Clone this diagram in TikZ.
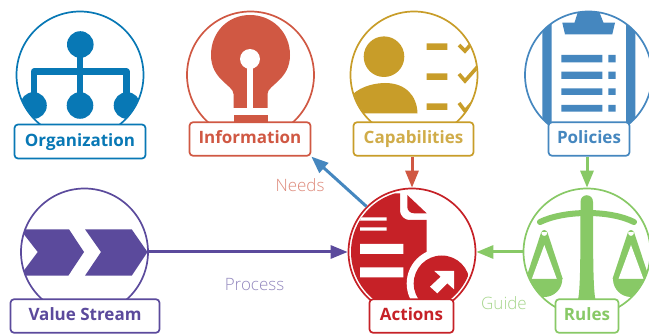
\documentclass[tikz,border=0pt]{standalone}
\usepackage{fontspec}
\setmainfont{Open Sans}
\newfontfamily\lightf{Open Sans Light}
\usetikzlibrary{arrows.meta}
\definecolor{cblue}{HTML}{0878B5}
\definecolor{cred}{HTML}{D05843}
\definecolor{cgold}{HTML}{C89D29}
\definecolor{csteel}{HTML}{4587BF}
\definecolor{cpurple}{HTML}{5B4A9C}
\definecolor{ccrim}{HTML}{C62127}
\definecolor{cgreen}{HTML}{88C966}
\tikzset{
  x=1pt,y=-1pt,
  ring/.style={circle,draw=#1,line width=1.7pt,minimum size=127pt,inner sep=0pt},
  tag/.style={draw=#1,text=#1,fill=white,line width=1.7pt,rounded corners=3.5pt,inner sep=0pt,
    font=\bfseries\fontsize{17}{17}\selectfont,text height=13pt,text depth=3pt},
  link/.style={draw=#1,line width=3pt,-{Triangle[length=17pt,width=13pt]},shorten >=0pt},
  word/.style={text=#1,font=\lightf\fontsize{17}{17}\selectfont,inner sep=0pt},
}
\begin{document}
\begin{tikzpicture}
\clip (0,0) rectangle (649,334);
\fill[white] (0,0) rectangle (649,334);
% rings
\node[ring=cblue] (orgc) at (80,75) {};
\node[ring=cred] (infc) at (250.5,75) {};
\node[ring=cgold] (capc) at (414,75) {};
\node[ring=csteel] (polc) at (588.5,75) {};
\node[ring=cpurple] (valc) at (84.5,252) {};
\node[ring=ccrim] (actc) at (412,252) {};
\node[ring=cgreen] (rulc) at (587,252) {};
% organization icon
\begin{scope}
\clip (orgc.center) circle (63pt);
\fill[cblue] (80.3,44.5) circle (13.3pt) (80,105.5) circle (13.3pt) (33.5,105.5) circle (13.3pt) (127,105.5) circle (13.3pt);
\draw[cblue,line width=6.3pt,line join=round] (80.3,50) -- (80.3,105);
\draw[cblue,line width=6.3pt,line join=round] (34,105) -- (34,71.5) -- (126.5,71.5) -- (126.5,105);
\end{scope}
% information icon
\begin{scope}
\clip (infc.center) circle (63pt);
\fill[cred] (233.5,108) -- (233.5,94) .. controls (233.5,85) and (211,80) .. (211,55)
  .. controls (211,32) and (228,15) .. (250,15) .. controls (272,15) and (290,32) .. (290,55)
  .. controls (290,80) and (267.5,85) .. (267.5,94) -- (267.5,108) -- cycle;
\fill[cred] (233.5,115) rectangle (267.5,125);
\fill[white] (250,59) circle (10pt);
\fill[white] (246.8,62) rectangle (253.2,109);
\end{scope}
% capabilities icon
\begin{scope}
\clip (capc.center) circle (63pt);
\fill[cgold] (384,56.7) circle (20.3pt);
\fill[cgold] (352,113.5) -- (352,95) .. controls (362,85) and (378,83) .. (385,83)
  .. controls (405,83) and (417,95) .. (417.5,113.5) -- cycle;
\fill[cgold] (426.7,43.3) rectangle (447.3,50) (426.7,73.3) rectangle (447.3,80) (426.7,103.3) rectangle (447.3,110);
\draw[cgold,line width=3.6pt] (459,45) -- (465,51) -- (480,34);
\draw[cgold,line width=3.6pt] (459,74) -- (465,81) -- (480,64);
\draw[cgold,line width=3.6pt] (459,103) -- (465,111) -- (480,94);
\end{scope}
% policies icon
\begin{scope}
\clip (polc.center) circle (63.5pt);
\fill[csteel] (542.3,0) rectangle (551.7,130) (626,0) rectangle (635.3,130);
\fill[csteel] (562.3,22.7) -- (574.5,22.7) -- (578.5,10) -- (598.5,10) -- (603.5,22.7) -- (615,22.7) -- (612.3,34.3) -- (565,34.3) -- cycle;
\foreach \yy/\hh in {55/62.3,71.7/79,88.3/95,105/111.7}{
  \fill[csteel] (561.3,\yy) rectangle (602.3,\hh) (608.3,\yy) rectangle (615.7,\hh);
}
\end{scope}
% value stream icon
\begin{scope}
\clip (valc.center) circle (63.5pt);
\fill[cpurple] (20,229.3) -- (69,229.3) -- (84,252) -- (68.3,275.7) -- (20,275.7) -- (37.7,252) -- cycle;
\fill[cpurple] (85,229.3) -- (131.7,229.3) -- (147.5,252) -- (131.7,275.7) -- (85,275.7) -- (101,252) -- cycle;
\end{scope}
% actions icon
\begin{scope}
\clip (actc.center) circle (61pt);
\fill[ccrim] (345,193.3) -- (400,193.3) -- (400,211) .. controls (400,216) and (405,220) .. (409,220)
  -- (426.7,220) -- (426.7,320) -- (345,320) -- cycle;
\fill[ccrim] (407.3,195) -- (426.7,213.3) -- (414,213.3) .. controls (410,213.3) and (407.3,210) .. (407.3,207) -- cycle;
\fill[white] (441.7,283.5) circle (35pt);
\fill[ccrim] (441.7,283.5) circle (28pt);
\fill[white] (360,217.3) rectangle (386.7,220.7) (360,227.3) rectangle (386.7,230.7)
  (360,244) rectangle (403.3,254) (360,267.3) rectangle (403.3,277.3);
\fill[white] (454,271) -- (454,289.3) -- (447.3,283.3) -- (437.3,293.3) -- (430,286.7) -- (440.7,276.7) -- (434.3,271) -- cycle;
\end{scope}
% rules icon
\begin{scope}
\clip (rulc.center) circle (63pt);
\fill[cgreen] (578,300) .. controls (580,290) and (580.5,270) .. (580.5,202) .. controls (580.5,193) and (593,193) .. (593,202) .. controls (593,270) and (593.5,290) .. (595.5,300) -- cycle;
\draw[cgreen,line width=6pt,line cap=round] (540,222) .. controls (565,210) and (610,210) .. (634,222);
\foreach \cx in {544.3,631}{
  \fill[cgreen,even odd rule] (\cx,233) circle (3pt)
    (\cx-3,232) -- (\cx+3,232) -- (\cx+18.5,279) -- (\cx-18.5,279) -- cycle;
  \fill[white] (\cx,245) -- (\cx+12.5,279) -- (\cx-12.5,279) -- cycle;
  \fill[cgreen] (\cx-18,279) arc[start angle=180,end angle=0,x radius=18pt,y radius=-18pt] -- cycle;
}
\end{scope}
% labels
\node[tag=cblue,minimum width=131pt,minimum height=34pt] (org) at (80,141.5) {Organization};
\node[tag=cred,minimum width=121pt,minimum height=33.5pt] (inf) at (250,139) {Information};
\node[tag=cgold,text=cgold!85!white,minimum width=120pt,minimum height=33.5pt] (cap) at (413.5,139) {Capabilities};
\node[tag=csteel,minimum width=81pt,minimum height=33.5pt] (pol) at (589,139) {Policies};
\node[tag=cpurple,minimum width=149pt,minimum height=33.5pt] (val) at (85,316) {Value Stream};
\node[tag=ccrim,minimum width=84pt,minimum height=33.5pt] (act) at (411.5,316) {Actions};
\node[tag=cgreen,minimum width=63pt,minimum height=33.5pt] (rul) at (587,316) {Rules};
% connectors
\draw[link=csteel] (actc.135) -- (inf.south east);
\draw[link=cred] (cap.south -| actc.north) -- (actc.north);
\draw[link=cgreen] (pol.south -| rulc.north) -- (rulc.north);
\draw[link=cgreen] (rulc.west) -- (actc.east);
\draw[link=cpurple] (valc.east) -- (actc.west);
% words
\node[word=cred!70!white] (needs) at (300,185) {Needs};
\node[word=cpurple!65!white] (proc) at (254.5,285) {Process};
\node[word=cgreen!75!white] (guide) at (504,303) {Guide};
\end{tikzpicture}
\end{document}
